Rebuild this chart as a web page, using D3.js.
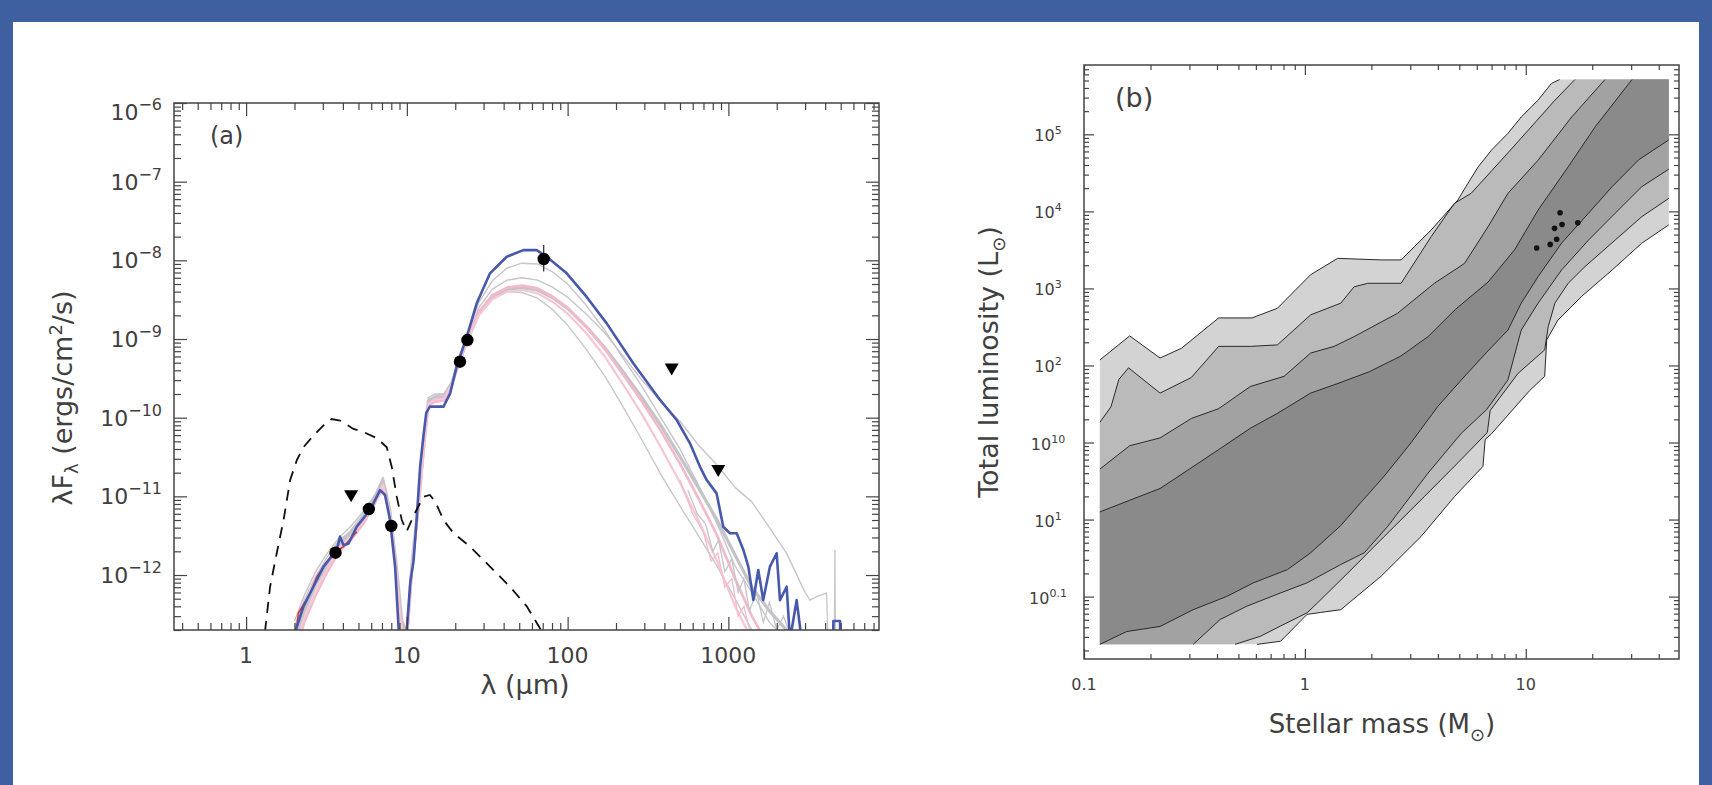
<!DOCTYPE html>
<html>
<head>
<meta charset="utf-8">
<script src="https://cdn.jsdelivr.net/npm/d3@7"></script>
<style>
  body { margin: 0; background: #3f60a0; }
  svg { display: block; }
  text { font-family: "DejaVu Sans", sans-serif; fill: #404040; }
</style>
</head>
<body>
<script>
// ---------- panel (a): wavelength (micron) vs lambda F_lambda (ergs/cm2/s)
const bestFit = [[1.95,1.0e-13],[2.02,1.9e-13],[2.27,3.95e-13],[2.62,7.1e-13],[3.03,1.28e-12],[3.66,2.08e-12],
  [3.84,3.07e-12],[4.03,2.41e-12],[4.33,2.5e-12],[4.88,4.11e-12],[5.9,6.7e-12],[6.81,1.2e-11],[7.32,1.04e-11],
  [7.86,5.0e-12],[8.45,1.28e-12],[9.07,1.0e-13],[9.75,1.0e-13],[10.5,8.0e-13],[11.0,1.5e-12],[11.5,5.0e-12],
  [12.1,2.4e-11],[12.7,6.0e-11],[13.2,1.15e-10],[13.9,1.38e-10],[16.9,1.38e-10],[18.6,2.04e-10],[20.4,4.45e-10],
  [23.6,1.07e-9],[27.2,2.84e-9],[32.9,6.84e-9],[41.8,1.11e-8],[53.0,1.35e-8],[64.2,1.35e-8],[74.1,1.11e-8],
  [98.7,6.84e-9],[131,3.45e-9],[175,1.58e-9],[256,4.91e-10],[376,1.68e-10],[477,9.34e-11],[577,4.72e-11],
  [666,2.38e-11],[733,1.61e-11],[845,1.09e-11],[929,4.11e-12],[1023,3.39e-12],[1127,3.39e-12],[1240,2.08e-12],
  [1331,1.28e-12],[1430,4.8e-13],[1535,1.16e-12],[1648,4.8e-13],[1814,1.28e-12],[1997,1.89e-12],[2094,4.8e-13],
  [2305,7.1e-13],[2417,1.5e-13],[2660,4.8e-13],[2925,1.0e-13],[4480,1.0e-13],[4500,2.6e-13],[4950,2.6e-13],[4970,1.0e-13]];

const photosphere = [[1.31,1.9e-13],[1.41,7.1e-13],[1.55,1.89e-12],[1.71,5.0e-12],[1.88,1.61e-11],[2.07,2.9e-11],
  [2.27,4.2e-11],[2.62,5.9e-11],[3.03,8.0e-11],[3.4,9.6e-11],[3.84,9.2e-11],[4.65,7.2e-11],[5.36,6.6e-11],
  [6.5,5.5e-11],[7.5,4.2e-11],[8.05,2.38e-11],[8.65,9.9e-12],[9.3,5.0e-12],[9.98,3.6e-12],[11.2,6.1e-12],
  [12.7,9.9e-12],[13.9,1.04e-11],[15.0,8.6e-12],[16.9,5.0e-12],[19.5,3.4e-12],[24.7,2.3e-12],[32.9,1.28e-12],
  [43.8,7.1e-13],[55.7,4.0e-13],[67.3,2.1e-13],[72,1.7e-13]];

const redModel = [[2.05,1.9e-13],[2.11,3.26e-13],[2.5,5.85e-13],[2.75,9.5e-13],[3.18,1.48e-12],[3.49,1.89e-12],
  [4.03,2.29e-12],[4.88,3.56e-12]];

const modelWave = [2.0,2.3,2.7,3.2,3.8,4.5,5.4,6.4,7.1,7.8,8.6,9.3,10.0,10.8,11.8,12.8,13.6,15,17,19,
  21,24,28,34,42,52,65,80,100,130,170,220,290,380,500,650,850,1100,1400,1800,2300,3000];
const greyModelHigh = [2.6e-13,5.5e-13,1.1e-12,1.9e-12,3.0e-12,4.2e-12,6.5e-12,1.1e-11,1.75e-11,7e-12,
  1.2e-12,2.2e-13,1.5e-13,1.2e-12,8e-12,5.5e-11,1.7e-10,1.9e-10,2.0e-10,2.9e-10,
  5.8e-10,1.2e-9,2.9e-9,5.5e-9,8.0e-9,9.2e-9,9.0e-9,7.2e-9,5.0e-9,2.7e-9,
  1.3e-9,5.8e-10,2.5e-10,1.0e-10,4.0e-11,1.4e-11,4.5e-12,1.3e-12,6e-13,2.5e-13,1.5e-13,1.0e-13];
const greyModelSlow = [2.2e-13,4.8e-13,9.5e-13,1.7e-12,2.8e-12,3.6e-12,5.8e-12,1.0e-11,1.5e-11,6.5e-12,
  1.1e-12,2.0e-13,1.5e-13,1.4e-12,8.5e-12,6e-11,1.8e-10,2.0e-10,2.0e-10,2.8e-10,
  5.2e-10,1.1e-9,2.5e-9,4.3e-9,5.6e-9,6.0e-9,5.6e-9,4.6e-9,3.4e-9,2.1e-9,
  1.2e-9,6.2e-10,3.0e-10,1.6e-10,9.0e-11,4.5e-11,2.5e-11,1.3e-11,8.5e-12,4.0e-12,1.9e-12,6e-13];
const pinkModelA = [1.0e-13,2.5e-13,5.5e-13,1.1e-12,2.0e-12,2.8e-12,4.6e-12,8.5e-12,1.3e-11,6e-12,
  1.0e-12,1.8e-13,1.4e-13,1.3e-12,7e-12,4.5e-11,1.45e-10,1.6e-10,1.65e-10,2.6e-10,
  5.0e-10,1.05e-9,2.2e-9,3.6e-9,4.5e-9,4.8e-9,4.4e-9,3.5e-9,2.5e-9,1.45e-9,
  7.5e-10,3.6e-10,1.6e-10,6.8e-11,2.6e-11,9.5e-12,3.2e-12,9e-13,3e-13,1.2e-13,1e-13,1e-13];
const greyModelMid = [1.6e-13,3.6e-13,7.5e-13,1.4e-12,2.5e-12,3.6e-12,5.8e-12,1.0e-11,1.6e-11,7e-12,
  1.3e-12,2.6e-13,1.8e-13,1.5e-12,8e-12,5e-11,1.6e-10,1.8e-10,1.85e-10,2.7e-10,
  4.8e-10,1.0e-9,2.1e-9,3.4e-9,4.3e-9,4.5e-9,4.2e-9,3.4e-9,2.45e-9,1.45e-9,
  7.8e-10,3.9e-10,1.8e-10,8.0e-11,3.2e-11,1.3e-11,5e-12,1.8e-12,7e-13,3.5e-13,2e-13,1e-13];
const pinkModelB = [1.2e-13,2.8e-13,6e-13,1.2e-12,2.2e-12,3.0e-12,5e-12,9e-12,1.4e-11,6.5e-12,
  1.1e-12,2e-13,1.5e-13,1.4e-12,7.5e-12,4.8e-11,1.5e-10,1.7e-10,1.75e-10,2.65e-10,
  4.9e-10,1.0e-9,2.0e-9,3.2e-9,4.0e-9,4.2e-9,3.8e-9,3.0e-9,2.1e-9,1.2e-9,
  6.0e-10,2.7e-10,1.1e-10,4.2e-11,1.5e-11,5e-12,1.5e-12,4e-13,1.5e-13,1e-13,1e-13,1e-13];
const greyModelLow = [1.4e-13,3.2e-13,7e-13,1.3e-12,2.3e-12,3.3e-12,5.4e-12,9.5e-12,1.5e-11,6.8e-12,
  1.2e-12,2.4e-13,1.7e-13,1.4e-12,7.8e-12,4.9e-11,1.55e-10,1.75e-10,1.8e-10,2.65e-10,
  4.7e-10,9.8e-10,2.0e-9,3.3e-9,4.0e-9,3.9e-9,3.3e-9,2.4e-9,1.5e-9,7.5e-10,
  3.4e-10,1.4e-10,5.2e-11,1.9e-11,7.5e-12,3.2e-12,1.3e-12,5.0e-13,2e-13,1e-13,1e-13,1e-13];

const noisyTailGrey = [[560,1.2e-11],[640,6e-12],[720,4.5e-12],[800,2e-12],[870,2.8e-12],[950,1.1e-12],[1050,1.6e-12],
  [1150,6e-13],[1250,9e-13],[1350,3.5e-13],[1500,6e-13],[1650,2.5e-13],[1800,4.5e-13],[2000,2e-13],[2200,3e-13],[2500,1.5e-13]];
const noisyTailPink = [[500,1.6e-11],[600,6e-12],[700,3.5e-12],[780,1.5e-12],[860,1.9e-12],[950,7e-13],[1050,9e-13],
  [1150,3e-13],[1250,4e-13],[1400,1.5e-13]];
const greyTail = [[3000,6e-13],[3215,4.8e-13],[3540,5.3e-13],[4080,5.9e-13],[4200,1e-13],[4560,1e-13],[4600,2.1e-12],[4640,1e-13]];

const detections = [[3.6,1.92e-12],[5.8,6.9e-12],[8.0,4.2e-12],[21.4,5.15e-10],[23.8,9.7e-10],[71,1.04e-8]];
const upperLimits = [[4.5,1.0e-11],[444,4.1e-10],[865,2.1e-11]];
const errorBars = [[71,7.2e-9,1.57e-8]];

const lambdaTicks = [1, 10, 100, 1000];
const lambdaTickLabels = ['1', '10', '100', '1000'];
const fluxTicks = [1e-6, 1e-7, 1e-8, 1e-9, 1e-10, 1e-11, 1e-12];
const fluxTickExp = ['\u22126', '\u22127', '\u22128', '\u22129', '\u221210', '\u221211', '\u221212'];

// ---------- panel (b): stellar mass (Msun) vs total luminosity (Lsun), nested contour levels
const gridMass = [0.118, 44.4];
const gridLum = [0.024, 5.14e5];
const upper1 = [[0.118,118],[0.161,242],[0.221,125],[0.276,167],[0.407,414],[0.576,414],[0.751,553],[1.062,1507],
  [1.407,2457],[2.214,2345],[2.726,2345],[3.733,5744],[4.926,1.408e4],[5.477,2.323e4],[6.09,3.787e4],[6.996,6.248e4],
  [8.305,1.031e5],[9.539,1.681e5],[11.37,2.774e5],[13.06,4.575e5],[14.23,5.14e5]];
const upper2 = [[0.118,18.3],[0.1325,29.1],[0.1438,65.8],[0.159,93.3],[0.221,43.8],[0.306,69.7],[0.407,177],[0.566,177],
  [0.751,185],[1.062,454],[1.454,644],[1.671,1050],[1.927,1166],[2.726,1166],[3.733,4715],[4.748,1.268e4],
  [5.658,1.716e4],[7.746,4.616e4],[10.26,1.131e5],[13.55,2.774e5],[16.68,5.14e5]];
const upper3 = [[0.118,4.52],[0.161,9.09],[0.221,11.47],[0.306,20.5],[0.407,27.5],[0.566,53.3],[0.804,72.2],[1.062,145],
  [1.357,177],[1.671,237],[2.628,476],[3.857,1166],[5.28,2111],[6.745,6305],[8.305,1.716e4],[11.37,4.616e4],
  [16.15,1.681e5],[22.84,5.14e5]];
const upper4 = [[0.118,1.256],[0.161,1.78],[0.221,2.53],[0.3,4.52],[0.407,8.09],[0.566,15.3],[0.751,23.9],[1.062,43.8],
  [1.413,58.5],[1.958,83.0],[2.714,132],[3.613,237],[4.807,535],[6.745,1208],[8.901,3174],[11.37,1.04e4],
  [15.56,3.787e4],[20.63,1.256e5],[30.27,5.14e5]];
const lower1 = [[44.4,6683],[33.52,3868],[24.59,1733],[17.88,785],[14.0,390],[12.44,215],[12.18,72.2],[10.43,47.5],
  [7.0,13],[6.55,11],[6.4,4.9],[4.768,2.0],[3.357,0.603],[2.214,0.184],[1.454,0.0676],[1.1807,0.0623],
  [1.0235,0.0588],[0.7755,0.0263],[0.607,0.024]];
const lower2 = [[44.4,1.475e4],[33.52,8535],[25.41,4246],[18.55,1924],[15.56,1166],[13.55,644],[12.64,320],[12.18,159],
  [9.233,79.2],[6.9,26],[6.7,13.5],[4.926,5.45],[3.483,2.0],[2.287,0.603],[1.617,0.222],[1.138,0.0824],
  [1.0235,0.0616],[0.7755,0.0415],[0.6297,0.0306],[0.4831,0.024]];
const lower3 = [[44.4,3.53e4],[33.52,2.092e4],[25.41,9478],[19.24,4246],[14.52,1733],[11.37,644],[9.539,288],[8.305,65.0],
  [6.635,26.5],[5.11,13.19],[3.613,4.02],[2.373,0.817],[1.857,0.37],[1.454,0.261],[1.0235,0.151],[0.7755,0.1115],
  [0.5459,0.0751],[0.4137,0.0505],[0.3121,0.024]];
const lower4 = [[44.4,8.46e4],[32.44,4.67e4],[24.59,2.092e4],[19.24,9478],[14.52,3868],[11.37,1421],[9.539,644],[8.305,288],
  [6.662,149],[5.11,65.0],[4.001,29.5],[3.018,9.86],[2.287,3.67],[1.79,1.66],[1.454,0.836],[1.062,0.37],
  [0.835,0.2243],[0.585,0.151],[0.443,0.1005],[0.312,0.0676],[0.221,0.041],[0.156,0.0352],[0.118,0.024]];
const sources = [[11.2,3340],[12.9,3730],[13.8,4340],[13.5,6020],[14.6,6760],[14.3,9600],[17.2,7100]];

const massTicks = [0.1, 1, 10];
const massTickLabels = ['0.1', '1', '10'];
const lumTicks = [1e5, 1e4, 1e3, 1e2, 1e1, 1e0, 1e-1];
const lumTickExp = ['5', '4', '3', '2', '10', '1', '0.1'];

// ---------- drawing
const svg = d3.select('body').append('svg').attr('width', 1712).attr('height', 785);
svg.append('rect').attr('x', 13).attr('y', 22).attr('width', 1686).attr('height', 763).attr('fill', '#fff');
const defs = svg.append('defs');

function logTicks(scale) {
  const [a, b] = d3.extent(scale.domain());
  const major = [], minor = [];
  for (let e = Math.floor(Math.log10(a)); e <= Math.ceil(Math.log10(b)); e++) {
    for (let m = 1; m < 10; m++) {
      const v = m * Math.pow(10, e);
      if (v < a * 0.9999 || v > b * 1.0001) continue;
      (m === 1 ? major : minor).push(v);
    }
  }
  return { major, minor };
}

function drawFrame(g, x, y, majorLen, minorLen) {
  const xt = logTicks(x), yt = logTicks(y);
  const [xl, xr] = x.range(), [yb, ytop] = y.range();
  const tick = (axis, tr, vals, size) => g.append('g').attr('transform', tr)
    .call(axis.tickValues(vals).tickSize(size).tickFormat(() => ''))
    .call(s => {
      s.select('.domain').remove();
      s.selectAll('line').attr('stroke', '#444').attr('stroke-width', 1.2);
    });
  [[xt.major, majorLen], [xt.minor, minorLen]].forEach(([v, s]) => {
    tick(d3.axisBottom(x), `translate(0,${yb})`, v, -s);
    tick(d3.axisTop(x), `translate(0,${ytop})`, v, -s);
  });
  [[yt.major, majorLen], [yt.minor, minorLen]].forEach(([v, s]) => {
    tick(d3.axisLeft(y), `translate(${xl},0)`, v, -s);
    tick(d3.axisRight(y), `translate(${xr},0)`, v, -s);
  });
  g.append('rect').attr('x', xl).attr('y', ytop).attr('width', xr - xl).attr('height', yb - ytop)
    .attr('fill', 'none').attr('stroke', '#444').attr('stroke-width', 1.5);
}

// ===== panel (a)
const xA = d3.scaleLog().domain([0.356, 8650]).range([174, 879]);
const yA = d3.scaleLog().domain([2.0e-13, 1e-6]).range([630, 103]);
const gA = svg.append('g');
defs.append('clipPath').attr('id', 'clipA').append('rect')
  .attr('x', 174).attr('y', 103).attr('width', 705).attr('height', 527);
const plotA = gA.append('g').attr('clip-path', 'url(#clipA)');
const lineA = d3.line().x(d => xA(d[0])).y(d => yA(d[1]));
const withWave = f => modelWave.map((w, i) => [w, f[i]]);

const models = [
  [greyModelHigh, '#c6c6cb', 1.4],
  [greyModelSlow, '#c9c4cc', 1.4],
  [greyModelMid, '#c4c4c8', 3.2],
  [pinkModelA, '#f3b8ca', 2.6],
  [greyModelLow, '#c8c8cc', 1.4],
  [pinkModelB, '#f6c6d4', 2.2]
];
models.forEach(([f, c, w]) => {
  plotA.append('path').datum(withWave(f)).attr('d', lineA)
    .attr('fill', 'none').attr('stroke', c).attr('stroke-width', w).attr('stroke-linejoin', 'round');
});
[[noisyTailGrey, '#c4c4c8'], [noisyTailPink, '#f3bccc'], [greyTail, '#c6c6cc']].forEach(([d, c]) => {
  plotA.append('path').datum(d).attr('d', lineA).attr('fill', 'none').attr('stroke', c).attr('stroke-width', 1.3);
});
plotA.append('path').datum(redModel).attr('d', lineA)
  .attr('fill', 'none').attr('stroke', '#e0303a').attr('stroke-width', 1.5);
plotA.append('path').datum(bestFit).attr('d', lineA)
  .attr('fill', 'none').attr('stroke', '#4858ad').attr('stroke-width', 2.6).attr('stroke-linejoin', 'round');
plotA.append('path').datum(photosphere).attr('d', lineA)
  .attr('fill', 'none').attr('stroke', '#111').attr('stroke-width', 1.8).attr('stroke-dasharray', '11,8');

plotA.selectAll('line.err').data(errorBars).join('line')
  .attr('x1', d => xA(d[0])).attr('x2', d => xA(d[0]))
  .attr('y1', d => yA(d[1])).attr('y2', d => yA(d[2]))
  .attr('stroke', '#222').attr('stroke-width', 1.2);
plotA.selectAll('circle.det').data(detections).join('circle')
  .attr('cx', d => xA(d[0])).attr('cy', d => yA(d[1])).attr('r', 6.2).attr('fill', '#000');
plotA.selectAll('path.lim').data(upperLimits).join('path')
  .attr('d', d => {
    const cx = xA(d[0]), cy = yA(d[1]);
    return `M${cx - 7},${cy - 6}L${cx + 7},${cy - 6}L${cx},${cy + 6}Z`;
  })
  .attr('fill', '#000');

drawFrame(gA, xA, yA, 13, 7);

fluxTicks.forEach((v, i) => {
  const t = gA.append('text').attr('x', 162).attr('y', yA(v) + (i === 0 ? 17 : 8))
    .attr('text-anchor', 'end').attr('font-size', 22);
  t.append('tspan').text('10');
  t.append('tspan').attr('dy', -10).attr('font-size', 16).text(fluxTickExp[i]);
});
lambdaTicks.forEach((v, i) => {
  gA.append('text').attr('x', xA(v)).attr('y', 663).attr('text-anchor', 'middle')
    .attr('font-size', 22).text(lambdaTickLabels[i]);
});
gA.append('text').attr('x', 525).attr('y', 694).attr('text-anchor', 'middle')
  .attr('font-size', 27).text('\u03bb (\u03bcm)');
{
  const t = gA.append('text').attr('transform', 'translate(72,398) rotate(-90)')
    .attr('text-anchor', 'middle').attr('font-size', 27);
  t.append('tspan').text('\u03bbF');
  t.append('tspan').attr('dy', 6).attr('font-size', 18).text('\u03bb');
  t.append('tspan').attr('dy', -6).text(' (ergs/cm');
  t.append('tspan').attr('dy', -10).attr('font-size', 18).text('2');
  t.append('tspan').attr('dy', 10).text('/s)');
}
gA.append('text').attr('x', 210).attr('y', 144).attr('font-size', 24).text('(a)');

// ===== panel (b)
const xB = d3.scaleLog().domain([0.1, 49.4]).range([1084, 1679]);
const yB = d3.scaleLog().domain([0.01549, 7.943e5]).range([659, 65]);
const gB = svg.append('g');
defs.append('clipPath').attr('id', 'clipB').append('rect')
  .attr('x', 1084).attr('y', 65).attr('width', 595).attr('height', 594);
const plotB = gB.append('g').attr('clip-path', 'url(#clipB)');
const lineB = d3.line().x(d => xB(d[0])).y(d => yB(d[1]));

const levels = [[upper1, lower1, '#d3d3d3'], [upper2, lower2, '#bababa'], [upper3, lower3, '#a2a2a2'], [upper4, lower4, '#8a8a8a']];
levels.forEach(([u, l, c]) => {
  const poly = u.concat([[gridMass[1], gridLum[1]]], l, [[gridMass[0], gridLum[0]]]);
  plotB.append('path').datum(poly).attr('d', d => lineB(d) + 'Z').attr('fill', c).attr('stroke', 'none');
});
levels.forEach(([u, l]) => {
  [u, l].forEach(d => plotB.append('path').datum(d).attr('d', lineB)
    .attr('fill', 'none').attr('stroke', '#2a2a2a').attr('stroke-width', 1.0));
});
plotB.selectAll('circle.src').data(sources).join('circle')
  .attr('cx', d => xB(d[0])).attr('cy', d => yB(d[1])).attr('r', 2.8).attr('fill', '#111');

drawFrame(gB, xB, yB, 10, 5);

lumTicks.forEach((v, i) => {
  const t = gB.append('text').attr('x', 1048).attr('y', yB(v) + 7)
    .attr('text-anchor', 'middle').attr('font-size', 16);
  t.append('tspan').text('10');
  t.append('tspan').attr('dy', -7).attr('font-size', 11).text(lumTickExp[i]);
});
massTicks.forEach((v, i) => {
  gB.append('text').attr('x', xB(v)).attr('y', 690).attr('text-anchor', 'middle')
    .attr('font-size', 16).text(massTickLabels[i]);
});
{
  const t = gB.append('text').attr('x', 1382).attr('y', 733).attr('text-anchor', 'middle').attr('font-size', 26);
  t.append('tspan').text('Stellar mass (M');
  t.append('tspan').attr('dy', 8).attr('font-size', 18).text('\u2299');
  t.append('tspan').attr('dy', -8).text(')');
}
{
  const t = gB.append('text').attr('transform', 'translate(998,362) rotate(-90)')
    .attr('text-anchor', 'middle').attr('font-size', 27);
  t.append('tspan').text('Total luminosity (L');
  t.append('tspan').attr('dy', 7).attr('font-size', 18).text('\u2299');
  t.append('tspan').attr('dy', -7).text(')');
}
gB.append('text').attr('x', 1115).attr('y', 107).attr('font-size', 27).text('(b)');
</script>
</body>
</html>
